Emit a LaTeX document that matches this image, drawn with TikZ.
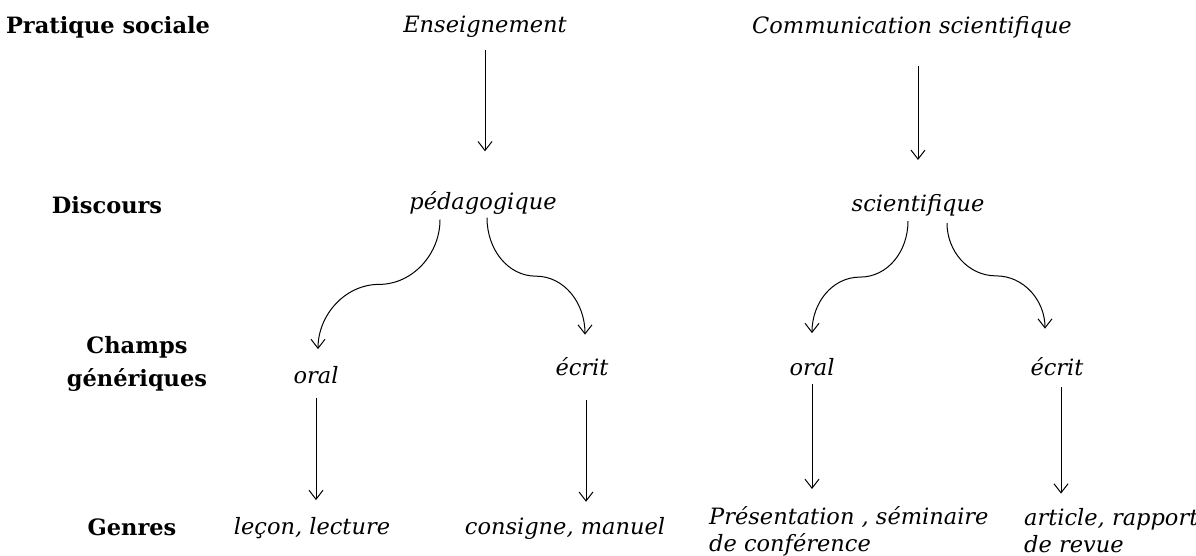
\documentclass[tikz,border=0pt]{standalone}
\usepackage{fontspec}
\setmainfont{DejaVu Serif}
\usetikzlibrary{arrows.meta,positioning,calc}
\tikzset{
  level/.style={font=\fontsize{22.5}{33}\selectfont\bfseries,align=center,inner sep=1pt},
  term/.style={font=\fontsize{22.5}{27}\selectfont\itshape,align=left,inner sep=1pt},
  arr/.style={-{Straight Barb[length=9pt,width=14pt]},line width=1pt}
}

\begin{document}
\begin{tikzpicture}[x=1pt,y=-1pt]
    \useasboundingbox (0,0) rectangle (1196,556);
    % niveaux
    \node[level] (pratique) at (108,27) {Pratique sociale};
    \node[level] (discours) at (107,205) {Discours};
    \node[level] (champs) at (137,364) {Champs\\génériques};
    \node[level] (genres) at (132,527) {Genres};
    % termes
    \node[term] (ens) at (485,27) {Enseignement};
    \node[term] (comm) at (912,27) {Communication scientifique};
    \node[term] (ped) at (483,203) {pédagogique};
    \node[term] (sci) at (918,205) {scientifique};
    \node[term] (oralA) at (316,375) {oral};
    \node[term] (ecritA) at (582,367) {écrit};
    \node[term] (oralB) at (812,367) {oral};
    \node[term] (ecritB) at (1057,367) {écrit};
    \node[term] (leconA) at (312,528) {leçon, lecture};
    \node[term] (consA) at (565,528) {consigne, manuel};
    \node[term,anchor=west] (presB) at (708,531) {Présentation , séminaire\\de conférence};
    \node[term,anchor=west] (artB) at (1023,531) {article, rapport\\de revue};
    % departs et pointes des courbes
    \coordinate (pedL) at ([xshift=-43pt,yshift=-4pt]ped.south);
    \coordinate (pedR) at ([xshift=4pt,yshift=-2pt]ped.south);
    \coordinate (sciL) at ([xshift=-10pt,yshift=-4pt]sci.south);
    \coordinate (sciR) at ([xshift=29pt,yshift=-6pt]sci.south);
    \coordinate (oralAtop) at ([xshift=2pt,yshift=16pt]oralA.north);
    \coordinate (ecritAtop) at ([xshift=3pt,yshift=22pt]ecritA.north);
    \coordinate (oralBtop) at ([yshift=24pt]oralB.north);
    \coordinate (ecritBtop) at ([xshift=-12pt,yshift=28pt]ecritB.north);
    % fleches
    \draw[arr,shorten <=11pt,shorten >=39pt] (ens.south) -- (ens.south |- ped.north);
    \draw[arr,shorten <=27pt,shorten >=33pt] (sci.north |- comm.south) -- (sci.north);
    \draw[arr] (pedL) .. controls +(0,34) and +(34,0) .. ($(pedL)!0.5!(oralAtop)$)
      .. controls +(-34,0) and +(0,-34) .. (oralAtop);
    \draw[arr] (pedR) .. controls +(0,32) and +(-28,0) .. ($(pedR)!0.5!(ecritAtop)$)
      .. controls +(28,0) and +(0,-32) .. (ecritAtop);
    \draw[arr] (sciL) .. controls +(0,30) and +(28,0) .. ($(sciL)!0.5!(oralBtop)$)
      .. controls +(-28,0) and +(0,-30) .. (oralBtop);
    \draw[arr] (sciR) .. controls +(0,28) and +(-28,0) .. ($(sciR)!0.5!(ecritBtop)$)
      .. controls +(28,0) and +(0,-28) .. (ecritBtop);
    \draw[arr,shorten <=13pt,shorten >=16pt] (oralA.south) -- (oralA.south |- leconA.north);
    \draw[arr,shorten <=23pt,shorten >=14pt] ([xshift=4pt]ecritA.south) -- ([xshift=4pt]ecritA.south |- consA.north);
    \draw[arr,shorten <=7pt,shorten >=16pt] (oralB.south) -- (oralB.south |- presB.north);
    \draw[arr,shorten <=10pt,shorten >=14pt] ([xshift=4pt]ecritB.south) -- ([xshift=4pt]ecritB.south |- artB.north);
\end{tikzpicture}
\end{document}
